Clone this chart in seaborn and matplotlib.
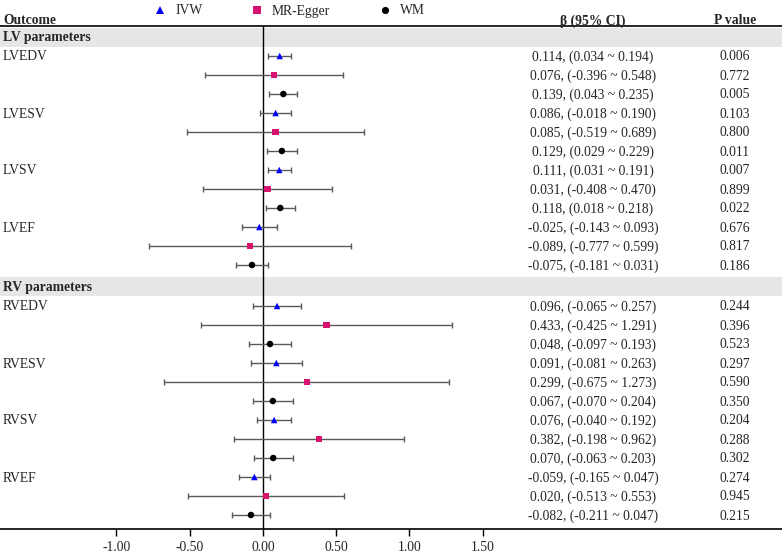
import matplotlib
matplotlib.use('Agg')
import matplotlib.pyplot as plt
import matplotlib.transforms as mtransforms
import pandas as pd
import numpy as np
import seaborn as sns

# values
outcomes = ['LVEDV', 'LVESV', 'LVSV', 'LVEF', 'RVEDV', 'RVESV', 'RVSV', 'RVEF']
groups = ['LV parameters'] * 4 + ['RV parameters'] * 4
methods = ['IVW', 'MR-Egger', 'WM']

beta = [0.114, 0.076, 0.139, 0.086, 0.085, 0.129, 0.111, 0.031, 0.118,
        -0.025, -0.089, -0.075, 0.096, 0.433, 0.048, 0.091, 0.299, 0.067,
        0.076, 0.382, 0.070, -0.059, 0.020, -0.082]
lower = [0.034, -0.396, 0.043, -0.018, -0.519, 0.029, 0.031, -0.408, 0.018,
         -0.143, -0.777, -0.181, -0.065, -0.425, -0.097, -0.081, -0.675, -0.070,
         -0.040, -0.198, -0.063, -0.165, -0.513, -0.211]
upper = [0.194, 0.548, 0.235, 0.190, 0.689, 0.229, 0.191, 0.470, 0.218,
         0.093, 0.599, 0.031, 0.257, 1.291, 0.193, 0.263, 1.273, 0.204,
         0.192, 0.962, 0.203, 0.047, 0.553, 0.047]
pval = ['0.006', '0.772', '0.005', '0.103', '0.800', '0.011', '0.007', '0.899', '0.022',
        '0.676', '0.817', '0.186', '0.244', '0.396', '0.523', '0.297', '0.590', '0.350',
        '0.204', '0.288', '0.302', '0.274', '0.945', '0.215']
xticks = [-1.0, -0.5, 0.0, 0.5, 1.0, 1.5]

sns.set_style('white')
plt.rcParams['font.family'] = ['Liberation Serif', 'DejaVu Serif']
FS = 9.8

# layout in pixels (figure is 782 x 554 at 100 dpi)
W, H = 782, 554
axis_y = 529
row_step = 19
lv_band, lv_start = 37, 56
rv_band, rv_start = 286, 306
zero_px, unit_px = 263, 146.5

rows = []
for i in range(len(beta)):
    o = i // 3
    start = lv_start if o < 4 else rv_start
    rows.append(start + row_step * (i - (0 if o < 4 else 12)))

df = pd.DataFrame({
    'outcome': np.repeat(outcomes, 3),
    'method': methods * len(outcomes),
    'beta': beta, 'lower': lower, 'upper': upper, 'p': pval, 'y': rows,
})

fig = plt.figure(figsize=(W / 100, H / 100), dpi=100)
ax = fig.add_axes([0, (H - axis_y) / H, 1, axis_y / H])
ax.set_xlim(-zero_px / unit_px, (W - zero_px) / unit_px)
ax.set_ylim(axis_y, 0)

# gray group bands
for yc in [lv_band, rv_band]:
    ax.axhspan(yc - 9.5, yc + 9.5, color='#e6e6e6', lw=0, zorder=0)

# header rule and null line
ax.axhline(26, color='black', lw=1.2, zorder=2)
ax.plot([0, 0], [26, axis_y], color='black', lw=1.0, zorder=2)

# CIs
ax.errorbar(df['beta'], df['y'],
            xerr=[df['beta'] - df['lower'], df['upper'] - df['beta']],
            fmt='none', ecolor='#5a5a5a', elinewidth=1.0, capsize=1.9,
            capthick=1.0, zorder=3)

palette = {'IVW': '#0000ff', 'MR-Egger': '#d6146e', 'WM': '#000000'}
markers = {'IVW': '^', 'MR-Egger': 's', 'WM': 'o'}
sns.scatterplot(data=df, x='beta', y='y', hue='method', style='method',
                palette=palette, markers=markers, s=22, linewidth=0,
                ax=ax, zorder=4, legend=True)

handles, labels = ax.get_legend_handles_labels()
ax.legend_.remove()
fig.legend(handles, labels, loc='center left',
           bbox_to_anchor=(153 / W, 1 - 11 / H), ncol=3, frameon=False,
           fontsize=FS, handlelength=1.1, handletextpad=0.55,
           columnspacing=3.45, borderpad=0, borderaxespad=0, markerscale=1.1)

# text columns
tr = mtransforms.blended_transform_factory(ax.transAxes, ax.transData)
ax.text(3 / W, 21, 'Outcome', transform=tr, fontsize=FS, fontweight='bold',
        va='center', ha='left')
ax.text(593 / W, 21, 'β (95% CI)', transform=tr, fontsize=FS, fontweight='bold',
        va='center', ha='center')
ax.text(735 / W, 21, 'P value', transform=tr, fontsize=FS, fontweight='bold',
        va='center', ha='center')
ax.text(3 / W, lv_band + 1, 'LV parameters', transform=tr, fontsize=FS,
        fontweight='bold', va='center', ha='left')
ax.text(3 / W, rv_band + 1, 'RV parameters', transform=tr, fontsize=FS,
        fontweight='bold', va='center', ha='left')

for r in df.itertuples():
    if r.method == 'IVW':
        ax.text(3 / W, r.y + 1, r.outcome, transform=tr, fontsize=FS,
                va='center', ha='left')
    ax.text(593 / W, r.y + 1, f'{r.beta:.3f}, ({r.lower:.3f} ~ {r.upper:.3f})',
            transform=tr, fontsize=FS, va='center', ha='center')
    ax.text(735 / W, r.y + 1, r.p, transform=tr, fontsize=FS,
            va='center', ha='center')

# axis styling
ax.set_xticks(xticks)
ax.set_xticklabels([f'{t:.2f}' for t in xticks], fontsize=FS)
ax.set_yticks([])
ax.set_xlabel('')
ax.set_ylabel('')
for s in ['top', 'left', 'right']:
    ax.spines[s].set_visible(False)
ax.spines['bottom'].set_color('black')
ax.spines['bottom'].set_linewidth(1.2)
ax.tick_params(axis='x', direction='out', length=5, width=1.0,
               color='black', pad=3.5, bottom=True)
ax.patch.set_alpha(0)

fig.savefig('out.png', dpi=100)
